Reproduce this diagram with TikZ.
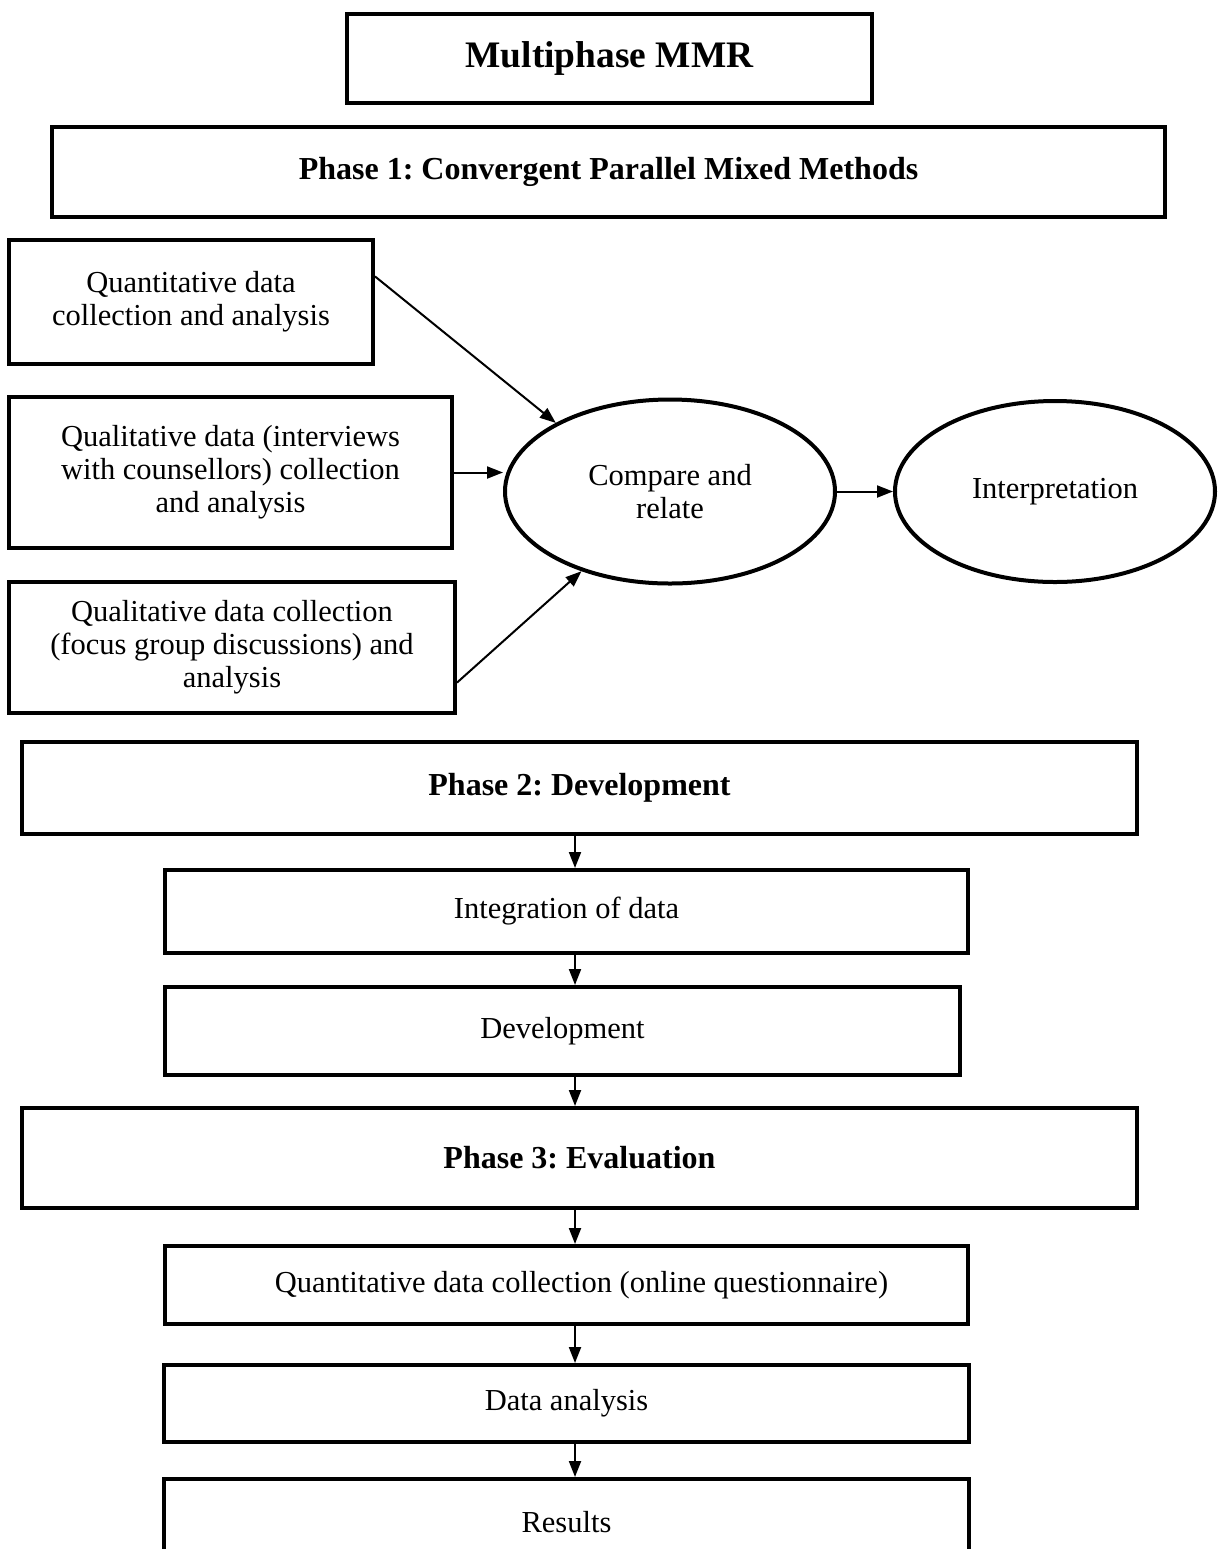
\documentclass[tikz,border=0pt]{standalone}
\usepackage{fontspec}
\setmainfont{Liberation Serif}
\frenchspacing
\usetikzlibrary{arrows.meta,shapes.geometric,calc}
\begin{document}
\begin{tikzpicture}[x=0.5pt,y=-0.5pt,
  box/.style={draw,line width=2pt,rectangle,inner sep=0pt,align=center,
    font=\fontsize{15.25}{16.5}\selectfont},
  oval/.style={draw,line width=2pt,ellipse,inner sep=0pt,align=center,
    font=\fontsize{15.25}{16.5}\selectfont},
  head/.style={font=\fontsize{16}{18}\selectfont\bfseries},
  arr/.style={line width=1pt,-{Triangle[length=8pt,width=6pt]}}]
\clip (0,0) rectangle (1218,1549);
\useasboundingbox (0,0) rectangle (1218,1549);

% title and phase 1
\node[box,minimum width=262.5pt,minimum height=44.5pt,font=\fontsize{18.7}{21}\selectfont\bfseries]
  (mmr) at (609.5,58.5) {Multiphase MMR};
\node[box,head,minimum width=556.5pt,minimum height=45pt]
  (ph1) at (608.5,172) {Phase 1: Convergent Parallel Mixed Methods};

% data strands
\node[box,minimum width=182pt,minimum height=62pt]
  (quant) at (191,302) {Quantitative data\\collection and analysis};
\node[box,minimum width=221.5pt,minimum height=75.5pt]
  (intv) at (230.5,472.5) {Qualitative data (interviews\\with counsellors) collection\\and analysis};
\node[box,minimum width=223pt,minimum height=65.5pt]
  (focus) at (232,647.5) {Qualitative data collection\\(focus group discussions) and\\analysis};

\node[oval,minimum width=165pt,minimum height=92pt]
  (compare) at (670,491.5) {Compare and\\relate};
\node[oval,minimum width=160pt,minimum height=90.5pt]
  (interp) at (1055,491.5) {Interpretation};

\draw[arr] ($(quant.north east)!0.3!(quant.south east)$) -- (compare.149);
\draw[arr] (intv.east) -- (intv.east -| compare.west);
\draw[arr] ($(focus.north east)!0.76!(focus.south east)$) -- (compare.222);
\draw[arr] (compare.east) -- (interp.west);

% phase 2
\node[box,head,minimum width=557.5pt,minimum height=46pt]
  (ph2) at (579.5,788) {Phase 2: Development};
\node[box,minimum width=401.5pt,minimum height=41.5pt]
  (integ) at (566.5,911.5) {Integration of data};
\node[box,minimum width=397.5pt,minimum height=44pt]
  (dev) at (562.5,1031) {Development};

% phase 3
\node[box,head,minimum width=557.5pt,minimum height=50pt]
  (ph3) at (579.5,1158) {Phase 3: Evaluation};
\node[box,minimum width=401.5pt,minimum height=39pt]
  (qonline) at (566.5,1285) {\hspace*{15pt}Quantitative data collection (online questionnaire)};
\node[box,minimum width=402.5pt,minimum height=38.5pt]
  (analysis) at (566.5,1403.5) {Data analysis};
\node[box,minimum width=402.5pt,minimum height=43pt]
  (results) at (566.5,1522) {Results};

\coordinate (ax) at (575,0);
\draw[arr] (ph2.south -| ax) -- (integ.north -| ax);
\draw[arr] (integ.south -| ax) -- (dev.north -| ax);
\draw[arr] (dev.south -| ax) -- (ph3.north -| ax);
\draw[arr] (ph3.south -| ax) -- (qonline.north -| ax);
\draw[arr] (qonline.south -| ax) -- (analysis.north -| ax);
\draw[arr] (analysis.south -| ax) -- (results.north -| ax);
\end{tikzpicture}
\end{document}
